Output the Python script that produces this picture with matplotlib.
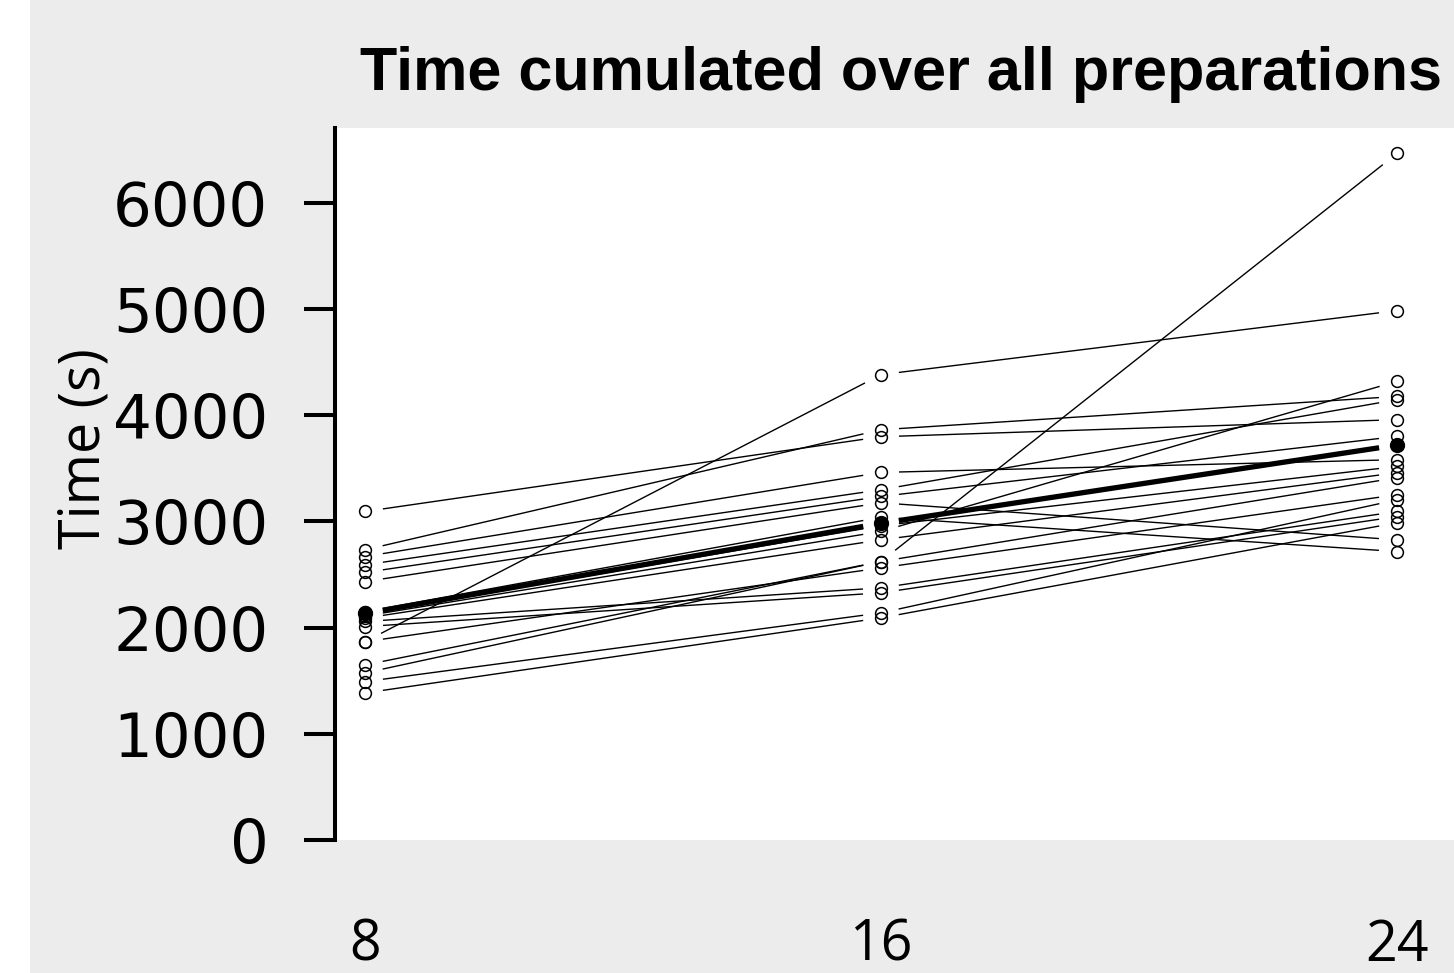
import numpy as np
import matplotlib
matplotlib.use("Agg")
import matplotlib.pyplot as plt
from matplotlib.patches import Rectangle

# number of preparations
preparations = [8, 16, 24]

# cumulated time (s) for each participant after 8, 16 and 24 preparations
time_8 = [1868, 2733, 3094, 2670, 2592, 2520, 2434, 2150, 2130,
          2110, 2090, 1649, 1574, 1868, 2058, 2010, 1492, 1385]
time_16 = [4383, 3864, 3798, 3462, 3299, 3236, 3176, 3040, 2960,
           2906, 2827, 2623, 2623, 2563, 2375, 2328, 2139, 2092]
time_24 = [4986, 4178, 3959, 3582, 4147, 3801, 2827, 2717, 3518,
           4320, 3459, 6466, 3412, 3252, 3094, 3046, 3204, 2988]

y_ticks = [0, 1000, 2000, 3000, 4000, 5000, 6000]

W, H = 1454, 973
fig = plt.figure(figsize=(W / 100, H / 100), dpi=100)
fig.patch.set_facecolor("white")
fig.add_artist(Rectangle((30 / W, 0), 1, 1, transform=fig.transFigure,
                         facecolor="#ececec", edgecolor="none", zorder=-10))

ax = fig.add_axes([335 / W, 133 / H, 1119 / W, 712 / H])
ax.set_facecolor("white")
ax.set_xlim(7.534, 24.885)
ax.set_ylim(0, 6706)

GAP = 18  # pixels left free around each point (type "b" look)
trans = ax.transData
inv = trans.inverted()


def gapped_line(xs, ys, **kw):
    pts = trans.transform(np.column_stack([xs, ys]))
    for p0, p1 in zip(pts[:-1], pts[1:]):
        d = p1 - p0
        u = d / np.hypot(*d)
        a, b = inv.transform(np.array([p0 + u * GAP, p1 - u * GAP]))
        ax.plot([a[0], b[0]], [a[1], b[1]], color="black",
                solid_capstyle="butt", **kw)


for vals in zip(time_8, time_16, time_24):
    gapped_line(preparations, vals, lw=1.0)
    ax.plot(preparations, vals, "o", mfc="none", mec="black", ms=8.5, mew=1.1)

mean_time = np.mean(np.array([time_8, time_16, time_24]), axis=1)
gapped_line(preparations, mean_time, lw=3.8)
ax.plot(preparations, mean_time, "o", color="black", ms=10)

for s in ["top", "right", "bottom"]:
    ax.spines[s].set_visible(False)
ax.spines["left"].set_linewidth(2.9)

ax.set_yticks(y_ticks)
ax.set_yticklabels([str(v) for v in y_ticks], fontsize=44, family="DejaVu Sans")
ax.tick_params(axis="y", direction="out", length=22, width=2.9, pad=26)

ax.set_xticks(preparations)
ax.set_xticklabels([str(v) for v in preparations], fontsize=40, family="Open Sans")
ax.tick_params(axis="x", length=0, pad=56)

ax.set_ylabel("Time (s)", fontsize=40, family="Open Sans")
ax.yaxis.set_label_coords(-0.198, 0.55)

fig.text(360 / W, 1 - 90 / H, "Time cumulated over all preparations",
         fontsize=44, fontweight="bold", family="Liberation Sans",
         ha="left", va="baseline")

fig.savefig("out.png", dpi=100)
